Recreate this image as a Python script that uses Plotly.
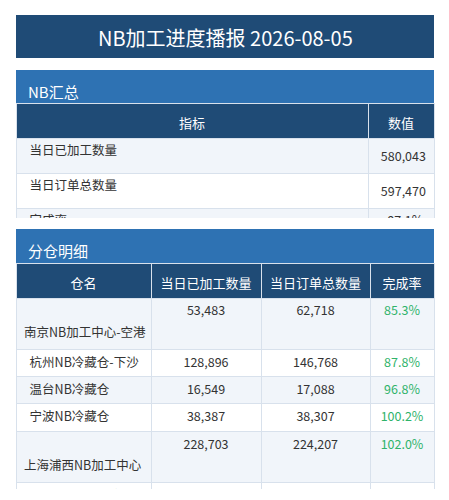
import plotly.graph_objects as go

title = "NB加工进度播报 2026-08-05"
sum_title = "NB汇总"
sum_headers = ["指标", "数值"]
sum_names = ["当日已加工数量", "当日订单总数量", "完成率"]
sum_values = ["580,043", "597,470", "97.1%"]

det_title = "分仓明细"
det_headers = ["仓名", "当日已加工数量", "当日订单总数量", "完成率"]
warehouses = ["南京NB加工中心-空港", "杭州NB冷藏仓-下沙", "温台NB冷藏仓", "宁波NB冷藏仓",
              "上海浦西NB加工中心", "上海NB冷藏仓-闵行", "苏南NB冷藏仓"]
processed = [53483, 128896, 16549, 38387, 228703, 13189, 100836]
orders = [62718, 146768, 17088, 38307, 224207, 12884, 95498]
rates = ["85.3%", "87.8%", "96.8%", "100.2%", "102.0%", "102.4%", "105.6%"]

W, H = 449, 500
OFF = 8  # page body margin
NAVY = "#1f4b76"
BLUE = "#2e72b3"
ALT = ["#f1f5fa", "#ffffff"]
LINE = "#d8e1ec"
TXT = "#333333"
GREEN = "#2fb36a"
FONT = "Noto Sans CJK SC"

def px(x): return (x - OFF) / W
def py(y): return 1 - (y - OFF) / H

x0, x1 = px(16), px(434)

fig = go.Figure()

fig.add_trace(go.Table(
    domain=dict(x=[x0, x1], y=[py(219), py(103)]),
    columnwidth=[352, 66],
    header=dict(values=["<br>" + h for h in sum_headers], fill_color=NAVY, line_color=LINE,
                font=dict(color="white", size=13, family=FONT), height=32, align="center"),
    cells=dict(values=[["  " + s for s in sum_names], [s + " " for s in sum_values]],
               fill_color=[[ALT[i % 2] for i in range(3)]] * 2,
               line_color=LINE, font=dict(color=TXT, size=12.5, family=FONT),
               height=27.5, align=["left", "right"])
))

fig.add_trace(go.Table(
    domain=dict(x=[x0, x1], y=[py(490), py(263)]),
    columnwidth=[135, 110, 109, 64],
    header=dict(values=["<br>" + h for h in det_headers], fill_color=NAVY, line_color=LINE,
                font=dict(color="white", size=13, family=FONT), height=31, align="center"),
    cells=dict(values=[["  " + w for w in warehouses], [f"{v:,}" for v in processed],
                       [f"{v:,}" for v in orders], rates],
               fill_color=[[ALT[i % 2] for i in range(7)]] * 4,
               line_color=LINE,
               font=dict(color=[TXT, TXT, TXT, GREEN], size=12.5, family=FONT),
               height=27.3, align=["left", "center", "center", "center"])
))

shapes = [
    dict(type="rect", xref="paper", yref="paper", x0=x0, x1=x1, y0=py(58), y1=py(15),
         fillcolor=NAVY, line=dict(width=0), layer="below"),
    dict(type="rect", xref="paper", yref="paper", x0=x0, x1=x1, y0=py(103), y1=py(70),
         fillcolor=BLUE, line=dict(width=0), layer="below"),
    dict(type="rect", xref="paper", yref="paper", x0=x0, x1=x1, y0=py(263), y1=py(229),
         fillcolor=BLUE, line=dict(width=0), layer="below"),
]
ann = [
    dict(text=title, x=(x0 + x1) / 2, y=py(37), xref="paper", yref="paper", showarrow=False,
         font=dict(color="white", size=20, family=FONT), xanchor="center", yanchor="middle"),
    dict(text=sum_title, x=px(26), y=py(91), xref="paper", yref="paper", showarrow=False,
         font=dict(color="white", size=15, family=FONT), xanchor="left", yanchor="middle"),
    dict(text=det_title, x=px(26), y=py(250), xref="paper", yref="paper", showarrow=False,
         font=dict(color="white", size=15, family=FONT), xanchor="left", yanchor="middle"),
]
fig.update_layout(width=W, height=H, margin=dict(l=0, r=0, t=0, b=0),
                  paper_bgcolor="white", shapes=shapes, annotations=ann)
fig.write_html("out.html")
